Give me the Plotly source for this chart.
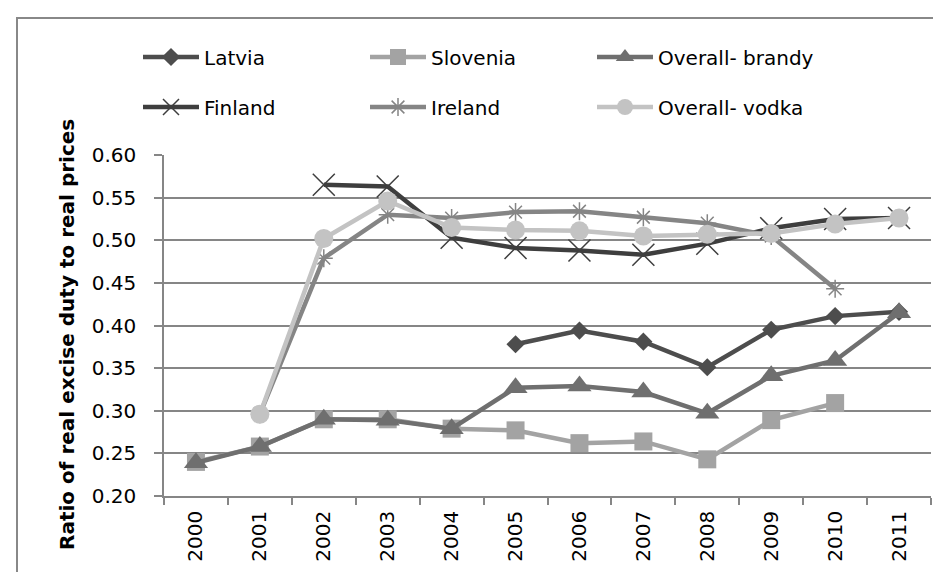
import plotly.graph_objects as go

years = ["2000", "2001", "2002", "2003", "2004", "2005", "2006", "2007", "2008", "2009", "2010", "2011"]

latvia = [None, None, None, None, None, 0.378, 0.394, 0.381, 0.351, 0.395, 0.411, 0.416]
slovenia = [0.240, 0.258, 0.290, 0.290, 0.279, 0.277, 0.262, 0.264, 0.243, 0.289, 0.309, None]
brandy = [0.239, 0.258, 0.290, 0.289, 0.279, 0.327, 0.329, 0.322, 0.297, 0.341, 0.359, 0.415]
finland = [None, None, 0.565, 0.563, 0.503, 0.491, 0.488, 0.483, 0.496, 0.514, 0.525, 0.526]
ireland = [None, 0.296, 0.479, 0.530, 0.526, 0.533, 0.534, 0.527, 0.520, 0.505, 0.443, None]
vodka = [None, 0.296, 0.502, 0.546, 0.515, 0.512, 0.511, 0.505, 0.507, 0.508, 0.519, 0.526]

names = ["Latvia", "Slovenia", "Overall- brandy", "Finland", "Ireland", "Overall- vodka"]
series = [latvia, slovenia, brandy, finland, ireland, vodka]
colors = ["#4d4d4d", "#a3a3a3", "#6f6f6f", "#3e3e3e", "#858585", "#c3c3c3"]
symbols = ["diamond", "square", "triangle-up", "x-thin-open", "asterisk-open", "circle"]
msizes = [14, 18, 21, 22, 15, 19]

W, H = 941, 572
L, R, T, B = 156, 923, 147, 488

def px(x):
    return (x - L) / (R - L)

def py(y):
    return (B - y) / (B - T)

# legend positions (pixel) for each entry: left x, center y
leg_x = [130, 357, 584, 130, 357, 584]
leg_y = [49, 49, 49, 99, 99, 99]

fig = go.Figure()
for i, (nm, ys) in enumerate(zip(names, series)):
    lg = "legend" if i == 0 else f"legend{i+1}"
    thin = symbols[i] in ("x-thin-open", "asterisk-open")
    fig.add_trace(go.Scatter(
        x=years, y=ys, name=nm, mode="lines+markers",
        line=dict(color=colors[i], width=4.5),
        marker=dict(symbol=symbols[i], size=msizes[i], color=colors[i],
                    line=dict(color=colors[i], width=1.5 if thin else 0)),
        legend=lg,
    ))

leg_common = dict(orientation="h", font=dict(family="DejaVu Sans", size=20, color="black"),
                  bgcolor="rgba(0,0,0,0)", itemwidth=56, xanchor="left", yanchor="middle",
                  tracegroupgap=0)
layout_legends = {}
for i in range(6):
    key = "legend" if i == 0 else f"legend{i+1}"
    layout_legends[key] = dict(leg_common, x=px(leg_x[i]), y=py(leg_y[i]))

fig.update_layout(
    width=W, height=H,
    margin=dict(l=L, r=W - R, t=T, b=H - B),
    paper_bgcolor="white", plot_bgcolor="white",
    showlegend=True,
    font=dict(family="DejaVu Sans", size=20, color="black"),
    xaxis=dict(type="category", range=[-0.5, 11.5], tickson="boundaries",
               ticks="outside", ticklen=7, tickcolor="#868686", tickwidth=1.5,
               showline=True, linecolor="#868686", linewidth=1.5,
               showgrid=False, tickangle=-90, ticklabelstandoff=5,
               tickfont=dict(family="DejaVu Sans", size=20, color="black")),
    yaxis=dict(range=[0.2, 0.6], dtick=0.05, tickformat=".2f",
               ticks="outside", ticklen=8, tickcolor="#868686", tickwidth=1.5,
               showline=True, linecolor="#868686", linewidth=1.5,
               showgrid=True, gridcolor="#868686", gridwidth=1.5, zeroline=False,
               ticklabelstandoff=14,
               tickfont=dict(family="DejaVu Sans", size=20, color="black")),
    annotations=[dict(text="<b>Ratio of real excise duty to real prices</b>",
                      xref="paper", yref="paper", x=px(59), y=py(327),
                      xanchor="center", yanchor="middle", textangle=-90, showarrow=False,
                      font=dict(family="DejaVu Sans", size=20, color="black"))],
    shapes=[dict(type="rect", xref="paper", yref="paper",
                 x0=px(9), y0=py(700), x1=px(1100), y1=py(10),
                 line=dict(color="#888888", width=2), fillcolor="rgba(0,0,0,0)", layer="below")],
    **layout_legends,
)

fig.write_html("out.html")
